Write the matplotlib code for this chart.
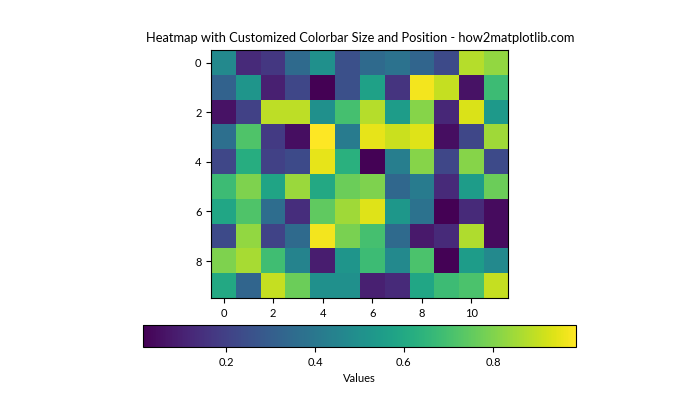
import numpy as np
import matplotlib
matplotlib.use("Agg")
import matplotlib.pyplot as plt

plt.rcParams['font.family'] = ['Lato', 'DejaVu Sans']
plt.rcParams['xtick.labelsize'] = 8
plt.rcParams['ytick.labelsize'] = 8
plt.rcParams['axes.labelsize'] = 8
plt.rcParams['axes.titlesize'] = 9.3

# Cell values (10 rows x 12 columns)
row0 = [0.47, 0.13, 0.17, 0.35, 0.50, 0.25, 0.35, 0.38, 0.33, 0.23, 0.88, 0.83]
row1 = [0.32, 0.52, 0.10, 0.22, 0.013, 0.25, 0.57, 0.16, 0.97, 0.90, 0.06, 0.68]
row2 = [0.06, 0.20, 0.89, 0.89, 0.50, 0.70, 0.88, 0.55, 0.81, 0.12, 0.93, 0.54]
row3 = [0.37, 0.72, 0.18, 0.05, 0.987, 0.42, 0.95, 0.91, 0.94, 0.05, 0.22, 0.85]
row4 = [0.22, 0.62, 0.20, 0.23, 0.95, 0.63, 0.02, 0.43, 0.81, 0.22, 0.81, 0.23]
row5 = [0.68, 0.80, 0.58, 0.84, 0.60, 0.77, 0.80, 0.34, 0.42, 0.13, 0.55, 0.77]
row6 = [0.59, 0.72, 0.36, 0.14, 0.75, 0.85, 0.94, 0.53, 0.38, 0.015, 0.13, 0.04]
row7 = [0.23, 0.83, 0.21, 0.35, 0.97, 0.79, 0.70, 0.35, 0.08, 0.13, 0.87, 0.04]
row8 = [0.80, 0.86, 0.69, 0.45, 0.09, 0.52, 0.68, 0.47, 0.71, 0.02, 0.55, 0.47]
row9 = [0.60, 0.33, 0.90, 0.77, 0.50, 0.50, 0.10, 0.13, 0.59, 0.68, 0.71, 0.90]

data = np.array([row0, row1, row2, row3, row4, row5, row6, row7, row8, row9])

fig = plt.figure(figsize=(7, 4.2), dpi=100)
ax = fig.add_axes([0.297, 0.290, 0.434, 0.590])
im = ax.imshow(data, cmap='viridis')
ax.set_title("Heatmap with Customized Colorbar Size and Position - how2matplotlib.com")

# Colorbar placed below the heatmap
cax = fig.add_axes([0.204, 0.174, 0.619, 0.052])
cbar = fig.colorbar(im, cax=cax, orientation='horizontal')
cbar.set_label("Values")

fig.savefig("out.png", dpi=100)
